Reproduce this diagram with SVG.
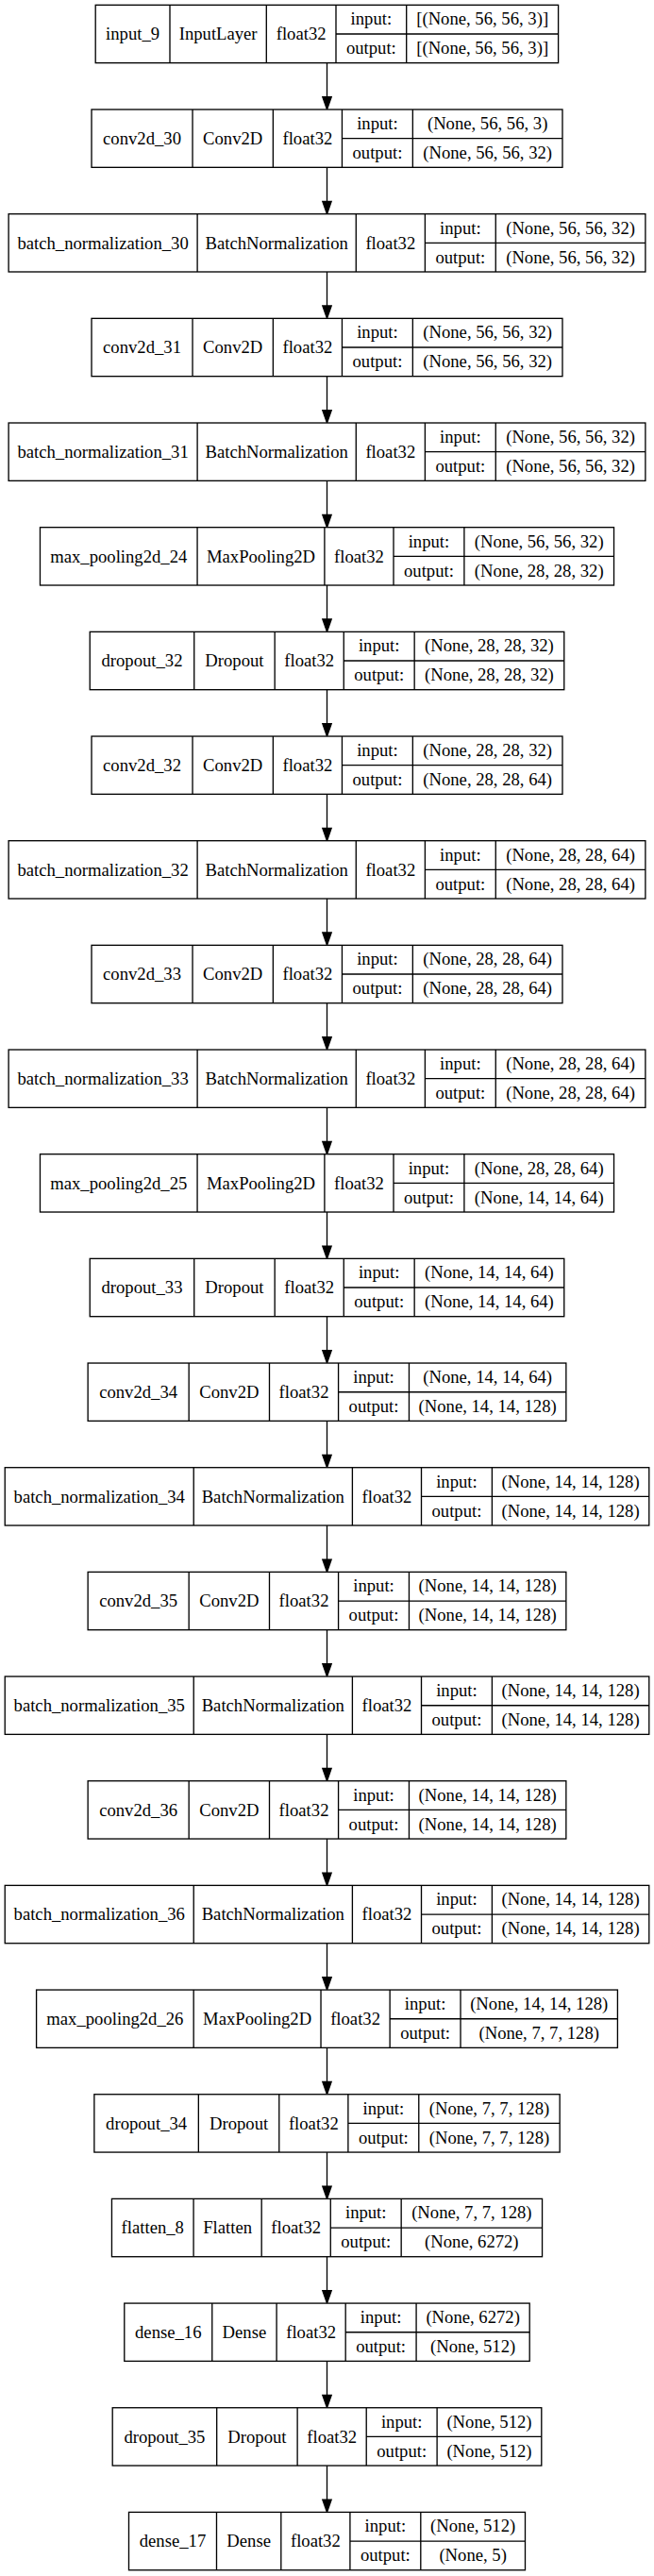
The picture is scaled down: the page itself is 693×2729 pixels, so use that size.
<svg xmlns="http://www.w3.org/2000/svg" width="693" height="2729" viewBox="0 0 693 2729">
<style>
.b{fill:#fff;stroke:#000;stroke-width:1.33}
.l{fill:none;stroke:#000;stroke-width:1.33}
.t{font-family:"Liberation Serif","Times New Roman",serif;font-size:18.67px;text-anchor:middle;fill:#000}
.e{fill:none;stroke:#000;stroke-width:1.33;marker-end:url(#ah)}
</style>
<defs>
<marker id="ah" markerUnits="userSpaceOnUse" orient="auto" refX="0" refY="0" markerWidth="20" markerHeight="20" overflow="visible">
<path d="M0,-4.67L13.33,0L0,4.67Z" fill="#000" stroke="#000" stroke-width="1.33"/>
</marker>
</defs>
<rect x="0" y="0" width="693" height="2729" fill="#fff"/>
<g id="edges">
<path class="e" d="M346.5 66.66V102.67"/>
<path class="e" d="M346.5 177.33V213.34"/>
<path class="e" d="M346.5 288V324.01"/>
<path class="e" d="M346.5 398.67V434.68"/>
<path class="e" d="M346.5 509.34V545.35"/>
<path class="e" d="M346.5 620.01V656.02"/>
<path class="e" d="M346.5 730.68V766.69"/>
<path class="e" d="M346.5 841.35V877.36"/>
<path class="e" d="M346.5 952.02V988.03"/>
<path class="e" d="M346.5 1062.69V1098.7"/>
<path class="e" d="M346.5 1173.36V1209.37"/>
<path class="e" d="M346.5 1284.03V1320.04"/>
<path class="e" d="M346.5 1394.7V1430.71"/>
<path class="e" d="M346.5 1505.37V1541.38"/>
<path class="e" d="M346.5 1616.04V1652.05"/>
<path class="e" d="M346.5 1726.71V1762.72"/>
<path class="e" d="M346.5 1837.38V1873.39"/>
<path class="e" d="M346.5 1948.05V1984.06"/>
<path class="e" d="M346.5 2058.72V2094.73"/>
<path class="e" d="M346.5 2169.39V2205.4"/>
<path class="e" d="M346.5 2280.06V2316.07"/>
<path class="e" d="M346.5 2390.73V2426.74"/>
<path class="e" d="M346.5 2501.4V2537.41"/>
<path class="e" d="M346.5 2612.07V2648.08"/>
</g>

<g id="input_9" transform="translate(0 5.33)">
<rect class="b" x="101.2" y="0" width="490.4" height="61.33"/>
<path class="l" d="M180 0V61.33M282.3 0V61.33M356 0V61.33M430.7 0V61.33M356 30.67H591.6"/>
<text class="t" x="140.6" y="37">input_9</text>
<text class="t" x="231.15" y="37">InputLayer</text>
<text class="t" x="319.15" y="37">float32</text>
<text class="t" x="393.35" y="21">input:</text>
<text class="t" x="393.35" y="52">output:</text>
<text class="t" x="511.15" y="21">[(None, 56, 56, 3)]</text>
<text class="t" x="511.15" y="52">[(None, 56, 56, 3)]</text>
</g>

<g id="conv2d_30" transform="translate(0 116)">
<rect class="b" x="97.02" y="0" width="498.96" height="61.33"/>
<path class="l" d="M204.03 0V61.33M289.36 0V61.33M362.46 0V61.33M437.35 0V61.33M362.46 30.67H595.98"/>
<text class="t" x="150.53" y="37">conv2d_30</text>
<text class="t" x="246.7" y="37">Conv2D</text>
<text class="t" x="325.91" y="37">float32</text>
<text class="t" x="399.91" y="21">input:</text>
<text class="t" x="399.91" y="52">output:</text>
<text class="t" x="516.67" y="21">(None, 56, 56, 3)</text>
<text class="t" x="516.67" y="52">(None, 56, 56, 32)</text>
</g>

<g id="batch_normalization_30" transform="translate(0 226.67)">
<rect class="b" x="9.11" y="0" width="674.78" height="61.33"/>
<path class="l" d="M209.11 0V61.33M377.28 0V61.33M450.38 0V61.33M525.27 0V61.33M450.38 30.67H683.89"/>
<text class="t" x="109.11" y="37">batch_normalization_30</text>
<text class="t" x="293.2" y="37">BatchNormalization</text>
<text class="t" x="413.83" y="37">float32</text>
<text class="t" x="487.83" y="21">input:</text>
<text class="t" x="487.83" y="52">output:</text>
<text class="t" x="604.58" y="21">(None, 56, 56, 32)</text>
<text class="t" x="604.58" y="52">(None, 56, 56, 32)</text>
</g>

<g id="conv2d_31" transform="translate(0 337.34)">
<rect class="b" x="97.02" y="0" width="498.96" height="61.33"/>
<path class="l" d="M204.03 0V61.33M289.36 0V61.33M362.46 0V61.33M437.35 0V61.33M362.46 30.67H595.98"/>
<text class="t" x="150.53" y="37">conv2d_31</text>
<text class="t" x="246.7" y="37">Conv2D</text>
<text class="t" x="325.91" y="37">float32</text>
<text class="t" x="399.91" y="21">input:</text>
<text class="t" x="399.91" y="52">output:</text>
<text class="t" x="516.67" y="21">(None, 56, 56, 32)</text>
<text class="t" x="516.67" y="52">(None, 56, 56, 32)</text>
</g>

<g id="batch_normalization_31" transform="translate(0 448.01)">
<rect class="b" x="9.11" y="0" width="674.78" height="61.33"/>
<path class="l" d="M209.11 0V61.33M377.28 0V61.33M450.38 0V61.33M525.27 0V61.33M450.38 30.67H683.89"/>
<text class="t" x="109.11" y="37">batch_normalization_31</text>
<text class="t" x="293.2" y="37">BatchNormalization</text>
<text class="t" x="413.83" y="37">float32</text>
<text class="t" x="487.83" y="21">input:</text>
<text class="t" x="487.83" y="52">output:</text>
<text class="t" x="604.58" y="21">(None, 56, 56, 32)</text>
<text class="t" x="604.58" y="52">(None, 56, 56, 32)</text>
</g>

<g id="max_pooling2d_24" transform="translate(0 558.68)">
<rect class="b" x="42.47" y="0" width="608.06" height="61.33"/>
<path class="l" d="M209.06 0V61.33M343.91 0V61.33M417.01 0V61.33M491.9 0V61.33M417.01 30.67H650.53"/>
<text class="t" x="125.77" y="37">max_pooling2d_24</text>
<text class="t" x="276.49" y="37">MaxPooling2D</text>
<text class="t" x="380.46" y="37">float32</text>
<text class="t" x="454.46" y="21">input:</text>
<text class="t" x="454.46" y="52">output:</text>
<text class="t" x="571.22" y="21">(None, 56, 56, 32)</text>
<text class="t" x="571.22" y="52">(None, 28, 28, 32)</text>
</g>

<g id="dropout_32" transform="translate(0 669.35)">
<rect class="b" x="95.23" y="0" width="502.54" height="61.33"/>
<path class="l" d="M205.73 0V61.33M291.16 0V61.33M364.26 0V61.33M439.15 0V61.33M364.26 30.67H597.77"/>
<text class="t" x="150.48" y="37">dropout_32</text>
<text class="t" x="248.45" y="37">Dropout</text>
<text class="t" x="327.71" y="37">float32</text>
<text class="t" x="401.71" y="21">input:</text>
<text class="t" x="401.71" y="52">output:</text>
<text class="t" x="518.46" y="21">(None, 28, 28, 32)</text>
<text class="t" x="518.46" y="52">(None, 28, 28, 32)</text>
</g>

<g id="conv2d_32" transform="translate(0 780.02)">
<rect class="b" x="97.02" y="0" width="498.96" height="61.33"/>
<path class="l" d="M204.03 0V61.33M289.36 0V61.33M362.46 0V61.33M437.35 0V61.33M362.46 30.67H595.98"/>
<text class="t" x="150.53" y="37">conv2d_32</text>
<text class="t" x="246.7" y="37">Conv2D</text>
<text class="t" x="325.91" y="37">float32</text>
<text class="t" x="399.91" y="21">input:</text>
<text class="t" x="399.91" y="52">output:</text>
<text class="t" x="516.67" y="21">(None, 28, 28, 32)</text>
<text class="t" x="516.67" y="52">(None, 28, 28, 64)</text>
</g>

<g id="batch_normalization_32" transform="translate(0 890.69)">
<rect class="b" x="9.11" y="0" width="674.78" height="61.33"/>
<path class="l" d="M209.11 0V61.33M377.28 0V61.33M450.38 0V61.33M525.27 0V61.33M450.38 30.67H683.89"/>
<text class="t" x="109.11" y="37">batch_normalization_32</text>
<text class="t" x="293.2" y="37">BatchNormalization</text>
<text class="t" x="413.83" y="37">float32</text>
<text class="t" x="487.83" y="21">input:</text>
<text class="t" x="487.83" y="52">output:</text>
<text class="t" x="604.58" y="21">(None, 28, 28, 64)</text>
<text class="t" x="604.58" y="52">(None, 28, 28, 64)</text>
</g>

<g id="conv2d_33" transform="translate(0 1001.36)">
<rect class="b" x="97.02" y="0" width="498.96" height="61.33"/>
<path class="l" d="M204.03 0V61.33M289.36 0V61.33M362.46 0V61.33M437.35 0V61.33M362.46 30.67H595.98"/>
<text class="t" x="150.53" y="37">conv2d_33</text>
<text class="t" x="246.7" y="37">Conv2D</text>
<text class="t" x="325.91" y="37">float32</text>
<text class="t" x="399.91" y="21">input:</text>
<text class="t" x="399.91" y="52">output:</text>
<text class="t" x="516.67" y="21">(None, 28, 28, 64)</text>
<text class="t" x="516.67" y="52">(None, 28, 28, 64)</text>
</g>

<g id="batch_normalization_33" transform="translate(0 1112.03)">
<rect class="b" x="9.11" y="0" width="674.78" height="61.33"/>
<path class="l" d="M209.11 0V61.33M377.28 0V61.33M450.38 0V61.33M525.27 0V61.33M450.38 30.67H683.89"/>
<text class="t" x="109.11" y="37">batch_normalization_33</text>
<text class="t" x="293.2" y="37">BatchNormalization</text>
<text class="t" x="413.83" y="37">float32</text>
<text class="t" x="487.83" y="21">input:</text>
<text class="t" x="487.83" y="52">output:</text>
<text class="t" x="604.58" y="21">(None, 28, 28, 64)</text>
<text class="t" x="604.58" y="52">(None, 28, 28, 64)</text>
</g>

<g id="max_pooling2d_25" transform="translate(0 1222.7)">
<rect class="b" x="42.47" y="0" width="608.06" height="61.33"/>
<path class="l" d="M209.06 0V61.33M343.91 0V61.33M417.01 0V61.33M491.9 0V61.33M417.01 30.67H650.53"/>
<text class="t" x="125.77" y="37">max_pooling2d_25</text>
<text class="t" x="276.49" y="37">MaxPooling2D</text>
<text class="t" x="380.46" y="37">float32</text>
<text class="t" x="454.46" y="21">input:</text>
<text class="t" x="454.46" y="52">output:</text>
<text class="t" x="571.22" y="21">(None, 28, 28, 64)</text>
<text class="t" x="571.22" y="52">(None, 14, 14, 64)</text>
</g>

<g id="dropout_33" transform="translate(0 1333.37)">
<rect class="b" x="95.23" y="0" width="502.54" height="61.33"/>
<path class="l" d="M205.73 0V61.33M291.16 0V61.33M364.26 0V61.33M439.15 0V61.33M364.26 30.67H597.77"/>
<text class="t" x="150.48" y="37">dropout_33</text>
<text class="t" x="248.45" y="37">Dropout</text>
<text class="t" x="327.71" y="37">float32</text>
<text class="t" x="401.71" y="21">input:</text>
<text class="t" x="401.71" y="52">output:</text>
<text class="t" x="518.46" y="21">(None, 14, 14, 64)</text>
<text class="t" x="518.46" y="52">(None, 14, 14, 64)</text>
</g>

<g id="conv2d_34" transform="translate(0 1444.04)">
<rect class="b" x="93.14" y="0" width="506.71" height="61.33"/>
<path class="l" d="M200.16 0V61.33M285.49 0V61.33M358.58 0V61.33M433.46 0V61.33M358.58 30.67H599.85"/>
<text class="t" x="146.65" y="37">conv2d_34</text>
<text class="t" x="242.83" y="37">Conv2D</text>
<text class="t" x="322.04" y="37">float32</text>
<text class="t" x="396.02" y="21">input:</text>
<text class="t" x="396.02" y="52">output:</text>
<text class="t" x="516.66" y="21">(None, 14, 14, 64)</text>
<text class="t" x="516.66" y="52">(None, 14, 14, 128)</text>
</g>

<g id="batch_normalization_34" transform="translate(0 1554.71)">
<rect class="b" x="5.23" y="0" width="682.55" height="61.33"/>
<path class="l" d="M205.23 0V61.33M373.4 0V61.33M446.5 0V61.33M521.39 0V61.33M446.5 30.67H687.78"/>
<text class="t" x="105.23" y="37">batch_normalization_34</text>
<text class="t" x="289.32" y="37">BatchNormalization</text>
<text class="t" x="409.95" y="37">float32</text>
<text class="t" x="483.95" y="21">input:</text>
<text class="t" x="483.95" y="52">output:</text>
<text class="t" x="604.59" y="21">(None, 14, 14, 128)</text>
<text class="t" x="604.59" y="52">(None, 14, 14, 128)</text>
</g>

<g id="conv2d_35" transform="translate(0 1665.38)">
<rect class="b" x="93.14" y="0" width="506.71" height="61.33"/>
<path class="l" d="M200.16 0V61.33M285.49 0V61.33M358.58 0V61.33M433.46 0V61.33M358.58 30.67H599.85"/>
<text class="t" x="146.65" y="37">conv2d_35</text>
<text class="t" x="242.83" y="37">Conv2D</text>
<text class="t" x="322.04" y="37">float32</text>
<text class="t" x="396.02" y="21">input:</text>
<text class="t" x="396.02" y="52">output:</text>
<text class="t" x="516.66" y="21">(None, 14, 14, 128)</text>
<text class="t" x="516.66" y="52">(None, 14, 14, 128)</text>
</g>

<g id="batch_normalization_35" transform="translate(0 1776.05)">
<rect class="b" x="5.23" y="0" width="682.55" height="61.33"/>
<path class="l" d="M205.23 0V61.33M373.4 0V61.33M446.5 0V61.33M521.39 0V61.33M446.5 30.67H687.78"/>
<text class="t" x="105.23" y="37">batch_normalization_35</text>
<text class="t" x="289.32" y="37">BatchNormalization</text>
<text class="t" x="409.95" y="37">float32</text>
<text class="t" x="483.95" y="21">input:</text>
<text class="t" x="483.95" y="52">output:</text>
<text class="t" x="604.59" y="21">(None, 14, 14, 128)</text>
<text class="t" x="604.59" y="52">(None, 14, 14, 128)</text>
</g>

<g id="conv2d_36" transform="translate(0 1886.72)">
<rect class="b" x="93.14" y="0" width="506.71" height="61.33"/>
<path class="l" d="M200.16 0V61.33M285.49 0V61.33M358.58 0V61.33M433.46 0V61.33M358.58 30.67H599.85"/>
<text class="t" x="146.65" y="37">conv2d_36</text>
<text class="t" x="242.83" y="37">Conv2D</text>
<text class="t" x="322.04" y="37">float32</text>
<text class="t" x="396.02" y="21">input:</text>
<text class="t" x="396.02" y="52">output:</text>
<text class="t" x="516.66" y="21">(None, 14, 14, 128)</text>
<text class="t" x="516.66" y="52">(None, 14, 14, 128)</text>
</g>

<g id="batch_normalization_36" transform="translate(0 1997.39)">
<rect class="b" x="5.23" y="0" width="682.55" height="61.33"/>
<path class="l" d="M205.23 0V61.33M373.4 0V61.33M446.5 0V61.33M521.39 0V61.33M446.5 30.67H687.78"/>
<text class="t" x="105.23" y="37">batch_normalization_36</text>
<text class="t" x="289.32" y="37">BatchNormalization</text>
<text class="t" x="409.95" y="37">float32</text>
<text class="t" x="483.95" y="21">input:</text>
<text class="t" x="483.95" y="52">output:</text>
<text class="t" x="604.59" y="21">(None, 14, 14, 128)</text>
<text class="t" x="604.59" y="52">(None, 14, 14, 128)</text>
</g>

<g id="max_pooling2d_26" transform="translate(0 2108.06)">
<rect class="b" x="38.59" y="0" width="615.82" height="61.33"/>
<path class="l" d="M205.18 0V61.33M340.03 0V61.33M413.13 0V61.33M488.02 0V61.33M413.13 30.67H654.41"/>
<text class="t" x="121.89" y="37">max_pooling2d_26</text>
<text class="t" x="272.61" y="37">MaxPooling2D</text>
<text class="t" x="376.58" y="37">float32</text>
<text class="t" x="450.58" y="21">input:</text>
<text class="t" x="450.58" y="52">output:</text>
<text class="t" x="571.22" y="21">(None, 14, 14, 128)</text>
<text class="t" x="571.22" y="52">(None, 7, 7, 128)</text>
</g>

<g id="dropout_34" transform="translate(0 2218.73)">
<rect class="b" x="99.86" y="0" width="493.28" height="61.33"/>
<path class="l" d="M210.35 0V61.33M295.78 0V61.33M368.88 0V61.33M443.77 0V61.33M368.88 30.67H593.14"/>
<text class="t" x="155.11" y="37">dropout_34</text>
<text class="t" x="253.07" y="37">Dropout</text>
<text class="t" x="332.33" y="37">float32</text>
<text class="t" x="406.33" y="21">input:</text>
<text class="t" x="406.33" y="52">output:</text>
<text class="t" x="518.46" y="21">(None, 7, 7, 128)</text>
<text class="t" x="518.46" y="52">(None, 7, 7, 128)</text>
</g>

<g id="flatten_8" transform="translate(0 2329.4)">
<rect class="b" x="118.45" y="0" width="456.09" height="61.33"/>
<path class="l" d="M205.08 0V61.33M277.18 0V61.33M350.28 0V61.33M425.17 0V61.33M350.28 30.67H574.54"/>
<text class="t" x="161.77" y="37">flatten_8</text>
<text class="t" x="241.13" y="37">Flatten</text>
<text class="t" x="313.73" y="37">float32</text>
<text class="t" x="387.73" y="21">input:</text>
<text class="t" x="387.73" y="52">output:</text>
<text class="t" x="499.86" y="21">(None, 7, 7, 128)</text>
<text class="t" x="499.86" y="52">(None, 6272)</text>
</g>

<g id="dense_16" transform="translate(0 2440.07)">
<rect class="b" x="131.78" y="0" width="429.42" height="61.33"/>
<path class="l" d="M224.77 0V61.33M293.09 0V61.33M366.19 0V61.33M441.08 0V61.33M366.19 30.67H561.2"/>
<text class="t" x="178.28" y="37">dense_16</text>
<text class="t" x="258.93" y="37">Dense</text>
<text class="t" x="329.64" y="37">float32</text>
<text class="t" x="403.64" y="21">input:</text>
<text class="t" x="403.64" y="52">output:</text>
<text class="t" x="501.14" y="21">(None, 6272)</text>
<text class="t" x="501.14" y="52">(None, 512)</text>
</g>

<g id="dropout_35" transform="translate(0 2550.74)">
<rect class="b" x="119.2" y="0" width="454.6" height="61.33"/>
<path class="l" d="M229.69 0V61.33M315.12 0V61.33M388.22 0V61.33M463.11 0V61.33M388.22 30.67H573.8"/>
<text class="t" x="174.45" y="37">dropout_35</text>
<text class="t" x="272.41" y="37">Dropout</text>
<text class="t" x="351.67" y="37">float32</text>
<text class="t" x="425.67" y="21">input:</text>
<text class="t" x="425.67" y="52">output:</text>
<text class="t" x="518.46" y="21">(None, 512)</text>
<text class="t" x="518.46" y="52">(None, 512)</text>
</g>

<g id="dense_17" transform="translate(0 2661.41)">
<rect class="b" x="136.5" y="0" width="419.99" height="61.33"/>
<path class="l" d="M229.49 0V61.33M297.81 0V61.33M370.91 0V61.33M445.8 0V61.33M370.91 30.67H556.49"/>
<text class="t" x="183" y="37">dense_17</text>
<text class="t" x="263.65" y="37">Dense</text>
<text class="t" x="334.36" y="37">float32</text>
<text class="t" x="408.36" y="21">input:</text>
<text class="t" x="408.36" y="52">output:</text>
<text class="t" x="501.15" y="21">(None, 512)</text>
<text class="t" x="501.15" y="52">(None, 5)</text>
</g>
</svg>
